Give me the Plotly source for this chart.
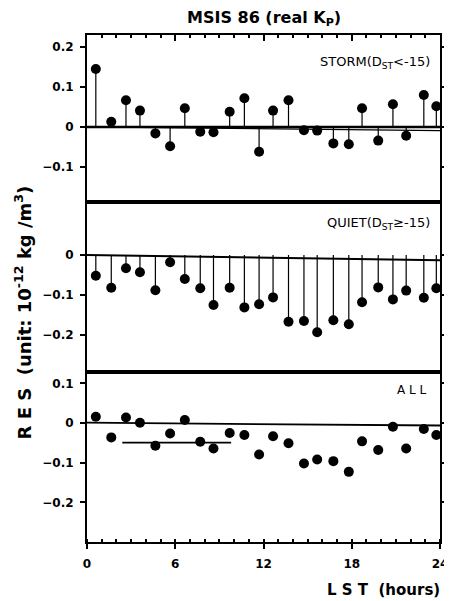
import plotly.graph_objects as go

# ---- data ----
lst = [0.6, 1.65, 2.65, 3.6, 4.65, 5.65, 6.65, 7.7, 8.6, 9.7, 10.7, 11.7,
       12.65, 13.7, 14.75, 15.65, 16.75, 17.8, 18.7, 19.8, 20.8, 21.7, 22.9, 23.75]
storm = [0.145, 0.013, 0.067, 0.041, -0.016, -0.048, 0.047, -0.012, -0.013, 0.038, 0.072, -0.062,
         0.041, 0.067, -0.008, -0.009, -0.041, -0.043, 0.047, -0.034, 0.057, -0.022, 0.080, 0.052]
quiet = [-0.052, -0.082, -0.033, -0.043, -0.088, -0.018, -0.060, -0.083, -0.125, -0.082, -0.131, -0.123,
         -0.106, -0.167, -0.165, -0.193, -0.163, -0.173, -0.118, -0.081, -0.111, -0.089, -0.107, -0.083]
all_res = [0.016, -0.036, 0.014, 0.001, -0.057, -0.026, 0.008, -0.047, -0.064, -0.025, -0.030, -0.079,
           -0.033, -0.051, -0.102, -0.092, -0.096, -0.123, -0.046, -0.068, -0.009, -0.064, -0.015, -0.030]

# reference / mean lines (x start, x end), (y start, y end)
storm_fit = ([0, 24], [0.0, -0.009])
quiet_fit = ([0, 24], [0.0, -0.013])
all_fit = ([0, 24], [0.001, -0.006])
all_mean = ([2.4, 9.8], [-0.049, -0.049])

x_ticks = [0, 6, 12, 18, 24]
x_labels = ["0", "6", "12", "18", "24"]
y1_ticks = [0.2, 0.1, 0, -0.1]
y1_labels = ["0.2", "0.1", "0", "−0.1"]
y2_ticks = [0, -0.1, -0.2]
y2_labels = ["0", "−0.1", "−0.2"]
y3_ticks = [0.1, 0, -0.1, -0.2]
y3_labels = ["0.1", "0", "−0.1", "−0.2"]

fig = go.Figure()


def stems(xs, ys):
    sx, sy = [], []
    for x, y in zip(xs, ys):
        sx += [x, x, None]
        sy += [0, y, None]
    return sx, sy


def bold(labels):
    return ["<b>%s</b>" % s for s in labels]


line_c = "black"
msize = 10
# panel 1
sx, sy = stems(lst, storm)
fig.add_trace(go.Scatter(x=sx, y=sy, mode="lines", line=dict(color=line_c, width=1.2), xaxis="x", yaxis="y"))
fig.add_trace(go.Scatter(x=[0, 24], y=[0, 0], mode="lines", line=dict(color=line_c, width=2.4), xaxis="x", yaxis="y"))
fig.add_trace(go.Scatter(x=storm_fit[0], y=storm_fit[1], mode="lines", line=dict(color=line_c, width=1.2), xaxis="x", yaxis="y"))
fig.add_trace(go.Scatter(x=lst, y=storm, mode="markers", marker=dict(color=line_c, size=msize), xaxis="x", yaxis="y"))
# panel 2
sx, sy = stems(lst, quiet)
fig.add_trace(go.Scatter(x=sx, y=sy, mode="lines", line=dict(color=line_c, width=1.2), xaxis="x2", yaxis="y2"))
fig.add_trace(go.Scatter(x=quiet_fit[0], y=quiet_fit[1], mode="lines", line=dict(color=line_c, width=2), xaxis="x2", yaxis="y2"))
fig.add_trace(go.Scatter(x=lst, y=quiet, mode="markers", marker=dict(color=line_c, size=msize), xaxis="x2", yaxis="y2"))
# panel 3
fig.add_trace(go.Scatter(x=all_fit[0], y=all_fit[1], mode="lines", line=dict(color=line_c, width=1.8), xaxis="x3", yaxis="y3"))
fig.add_trace(go.Scatter(x=all_mean[0], y=all_mean[1], mode="lines", line=dict(color=line_c, width=1.8), xaxis="x3", yaxis="y3"))
fig.add_trace(go.Scatter(x=lst, y=all_res, mode="markers", marker=dict(color=line_c, size=msize), xaxis="x3", yaxis="y3"))

tickfont = dict(family="DejaVu Sans", size=12, color="black")

d3 = [0, 170 / 507]
d2 = [170 / 507, 340 / 507]
d1 = [340 / 507, 1]

common_x = dict(range=[0, 24], showline=True, linecolor="black", linewidth=2, mirror=True,
                showgrid=False, zeroline=False)
common_y = dict(showline=True, linecolor="black", linewidth=2, mirror="ticks", showgrid=False,
                zeroline=False, ticks="outside", ticklen=5, tickwidth=1.5, tickcolor="black",
                tickfont=tickfont, ticklabelstandoff=4)

# the page body has an 8px margin, so the figure is offset by (8, 8)
fig.update_layout(
    width=452, height=601,
    margin=dict(l=79, r=17, t=27, b=67),
    paper_bgcolor="white", plot_bgcolor="white",
    showlegend=False,
    xaxis=dict(**common_x, anchor="y", side="top", ticks="inside", tickvals=x_ticks, ticklen=6,
               tickwidth=1.5, tickcolor="black", showticklabels=False,
               minor=dict(dtick=1, ticks="inside", ticklen=3, tickwidth=1.5, tickcolor="black")),
    xaxis2=dict(**common_x, anchor="y2", ticks="", showticklabels=False),
    xaxis3=dict(**common_x, anchor="y3", ticks="outside", tickvals=x_ticks, ticktext=bold(x_labels),
                ticklen=5, tickwidth=1.5, tickcolor="black", tickfont=tickfont, ticklabelstandoff=5,
                minor=dict(dtick=1, ticks="inside", ticklen=3, tickwidth=1.5, tickcolor="black")),
    yaxis=dict(**common_y, domain=d1, anchor="x", range=[-0.1875, 0.23], tickvals=y1_ticks,
               ticktext=bold(y1_labels)),
    yaxis2=dict(**common_y, domain=d2, anchor="x2", range=[-0.2925, 0.1325], tickvals=y2_ticks,
                ticktext=bold(y2_labels)),
    yaxis3=dict(**common_y, domain=d3, anchor="x3", range=[-0.30, 0.129], tickvals=y3_ticks,
                ticktext=bold(y3_labels)),
)

ann_font = dict(family="DejaVu Sans", size=13, color="black")
fig.add_annotation(text="<b>MSIS 86 (real K<sub>P</sub>)</b>", xref="paper", yref="paper", x=0.5, y=1,
                   yanchor="middle", yshift=17, showarrow=False,
                   font=dict(family="DejaVu Sans", size=16, color="black"))
fig.add_annotation(text="STORM(D<sub>ST</sub><-15)", xref="x", yref="y", x=23.47, y=0.1625,
                   xanchor="right", showarrow=False, font=ann_font)
fig.add_annotation(text="QUIET(D<sub>ST</sub>≥-15)", xref="x2", yref="y2", x=23.47, y=0.08,
                   xanchor="right", showarrow=False, font=ann_font)
fig.add_annotation(text="A L L", xref="x3", yref="y3", x=23.26, y=0.0835,
                   xanchor="right", showarrow=False, font=dict(family="DejaVu Sans", size=12, color="black"))
fig.add_annotation(text="<b>L S T  (hours)</b>", xref="paper", yref="paper", x=1.0, xshift=2, y=0,
                   yanchor="middle", yshift=-48, xanchor="right", showarrow=False,
                   font=dict(family="DejaVu Sans", size=15, color="black"))
fig.add_annotation(text="<b>R E S  (unit: 10<sup>-12</sup> kg /m<sup>3</sup>)</b>", xref="paper", yref="paper",
                   x=0, xshift=-64, xanchor="center", y=0.5, yanchor="middle", yshift=-24,
                   textangle=-90, showarrow=False,
                   font=dict(family="DejaVu Sans", size=18, color="black"))

fig.write_html("out.html")
